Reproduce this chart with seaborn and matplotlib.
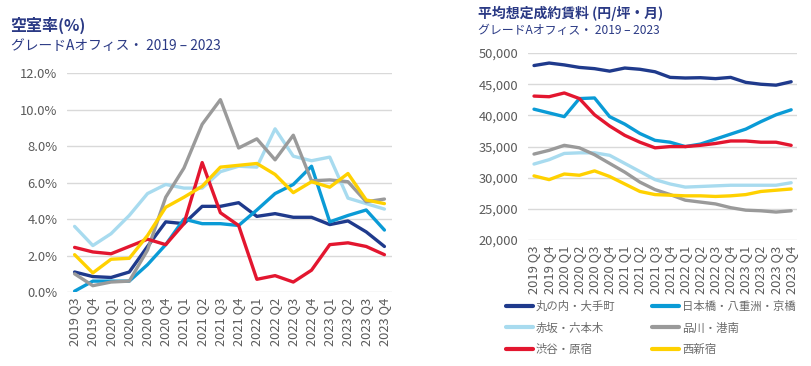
import pandas as pd
import matplotlib.pyplot as plt
import seaborn as sns

# Quarters shown on both x axes
quarters = ['2019 Q3', '2019 Q4', '2020 Q1', '2020 Q2', '2020 Q3', '2020 Q4',
            '2021 Q1', '2021 Q2', '2021 Q3', '2021 Q4', '2022 Q1', '2022 Q2',
            '2022 Q3', '2022 Q4', '2023 Q1', '2023 Q2', '2023 Q3', '2023 Q4']

areas = ['丸の内・大手町', '日本橋・八重洲・京橋', '赤坂・六本木',
         '品川・港南', '渋谷・原宿', '西新宿']
colors = ['#1f3a8c', '#0a9bd6', '#a8dbef', '#9a9a9a', '#e3162f', '#ffd100']

# Vacancy rate (%)
vac_marunouchi = [1.1, 0.85, 0.8, 1.1, 2.5, 3.85, 3.75, 4.7, 4.7, 4.9, 4.15, 4.3, 4.1, 4.1, 3.7, 3.9, 3.3, 2.5]
vac_nihonbashi = [0.05, 0.6, 0.6, 0.6, 1.5, 2.6, 4.0, 3.75, 3.75, 3.65, 4.5, 5.4, 5.9, 6.9, 3.85, 4.2, 4.5, 3.4]
vac_akasaka = [3.6, 2.55, 3.2, 4.2, 5.4, 5.9, 5.7, 5.7, 6.6, 6.9, 6.85, 8.95, 7.45, 7.2, 7.4, 5.15, 4.85, 4.55]
vac_shinagawa = [1.0, 0.35, 0.55, 0.6, 2.3, 5.2, 6.8, 9.2, 10.55, 7.9, 8.4, 7.25, 8.6, 6.1, 6.15, 6.05, 4.95, 5.1]
vac_shibuya = [2.45, 2.2, 2.1, 2.5, 2.9, 2.6, 3.75, 7.1, 4.35, 3.65, 0.7, 0.9, 0.55, 1.2, 2.6, 2.7, 2.5, 2.05]
vac_nishishinjuku = [2.05, 1.05, 1.8, 1.85, 3.1, 4.65, 5.2, 5.8, 6.85, 6.95, 7.05, 6.45, 5.45, 6.05, 5.75, 6.5, 5.05, 4.85]

# Average assumed contract rent (yen / tsubo / month)
rent_marunouchi = [48000, 48400, 48100, 47700, 47500, 47100, 47600, 47400, 47000, 46100, 46000, 46050, 45900, 46100, 45300, 45000, 44850, 45400]
rent_nihonbashi = [41000, 40400, 39800, 42700, 42800, 39800, 38600, 37100, 36000, 35700, 35000, 35400, 36200, 37000, 37800, 39000, 40100, 40900]
rent_akasaka = [32200, 32900, 33900, 34000, 34000, 33600, 32300, 31000, 29700, 29000, 28500, 28600, 28700, 28800, 28800, 28800, 28800, 29200]
rent_shinagawa = [33800, 34400, 35200, 34800, 33700, 32300, 30900, 29300, 28100, 27300, 26400, 26100, 25800, 25200, 24800, 24700, 24500, 24700]
rent_shibuya = [43100, 43000, 43600, 42700, 40100, 38300, 36800, 35700, 34800, 35000, 35000, 35200, 35500, 35900, 35900, 35700, 35700, 35200]
rent_nishishinjuku = [30300, 29700, 30600, 30400, 31100, 30200, 29000, 27800, 27300, 27200, 27100, 27100, 27000, 27100, 27300, 27800, 28000, 28200]

vac_series = [vac_marunouchi, vac_nihonbashi, vac_akasaka, vac_shinagawa, vac_shibuya, vac_nishishinjuku]
rent_series = [rent_marunouchi, rent_nihonbashi, rent_akasaka, rent_shinagawa, rent_shibuya, rent_nishishinjuku]


def to_long(series_list):
    rows = []
    for area, vals in zip(areas, series_list):
        for i, v in enumerate(vals):
            rows.append({'idx': i, 'area': area, 'value': v})
    return pd.DataFrame(rows)


sns.set_style('white')
plt.rcParams['font.family'] = ['Noto Sans CJK JP', 'DejaVu Sans']

title_color = '#2b3a85'
tick_color = '#5a5a5a'
grid_color = '#d9d9d9'
palette = dict(zip(areas, colors))

fig = plt.figure(figsize=(8.11, 3.66), dpi=100)
ax1 = fig.add_axes([0.083, 0.202, 0.400, 0.598])
ax2 = fig.add_axes([0.651, 0.344, 0.332, 0.511])

# Left: vacancy rate
sns.lineplot(data=to_long(vac_series), x='idx', y='value', hue='area',
             palette=palette, linewidth=2.4, legend=False, ax=ax1)
ax1.set_ylim(0, 12)
ax1.set_yticks([0, 2, 4, 6, 8, 10, 12])
ax1.set_yticklabels([f'{v:.1f}%' for v in [0, 2, 4, 6, 8, 10, 12]])
ax1.set_xlim(-0.4, 17.4)

# Right: rent
sns.lineplot(data=to_long(rent_series), x='idx', y='value', hue='area',
             palette=palette, linewidth=2.4, ax=ax2)
ax2.set_ylim(20000, 50000)
ax2.set_yticks(range(20000, 50001, 5000))
ax2.set_yticklabels([f'{v:,}' for v in range(20000, 50001, 5000)])
ax2.set_xlim(-0.4, 17.4)

for ax in (ax1, ax2):
    ax.set_xticks(range(len(quarters)))
    ax.set_xticklabels(quarters, rotation=90)
    ax.set_xlabel('')
    ax.set_ylabel('')
    ax.grid(axis='y', color=grid_color, linewidth=1)
    ax.grid(axis='x', visible=False)
    ax.set_axisbelow(True)
    for s in ax.spines.values():
        s.set_visible(False)
    ax.tick_params(axis='both', length=0, labelsize=9.3, colors=tick_color)
    ax.tick_params(axis='x', pad=4)
    ax.tick_params(axis='y', pad=7)

# Legend below the right chart, filled row by row
handles, labels = ax2.get_legend_handles_labels()
ax2.get_legend().remove()
order = [0, 2, 4, 1, 3, 5]
leg = fig.legend([handles[i] for i in order], [labels[i] for i in order],
                 ncol=2, loc='upper left', bbox_to_anchor=(0.6165, 0.195),
                 frameon=False, fontsize=8.2, handlelength=2.4, handletextpad=0.25,
                 columnspacing=3.2, labelspacing=0.95, borderpad=0,
                 labelcolor='#6a6a6a')
for line in leg.get_lines():
    line.set_linewidth(3)

# Titles
fig.text(0.013, 0.930, '空室率(%)', fontsize=11.5, fontweight='bold', color=title_color, va='center')
fig.text(0.013, 0.874, 'グレードAオフィス・ 2019 – 2023', fontsize=9.9, color=title_color, va='center')
fig.text(0.589, 0.964, '平均想定成約賃料 (円/坪・月)', fontsize=10, fontweight='bold', color=title_color, va='center')
fig.text(0.589, 0.918, 'グレードAオフィス・ 2019 – 2023', fontsize=8.6, color=title_color, va='center')

fig.savefig('out.png', dpi=100)
